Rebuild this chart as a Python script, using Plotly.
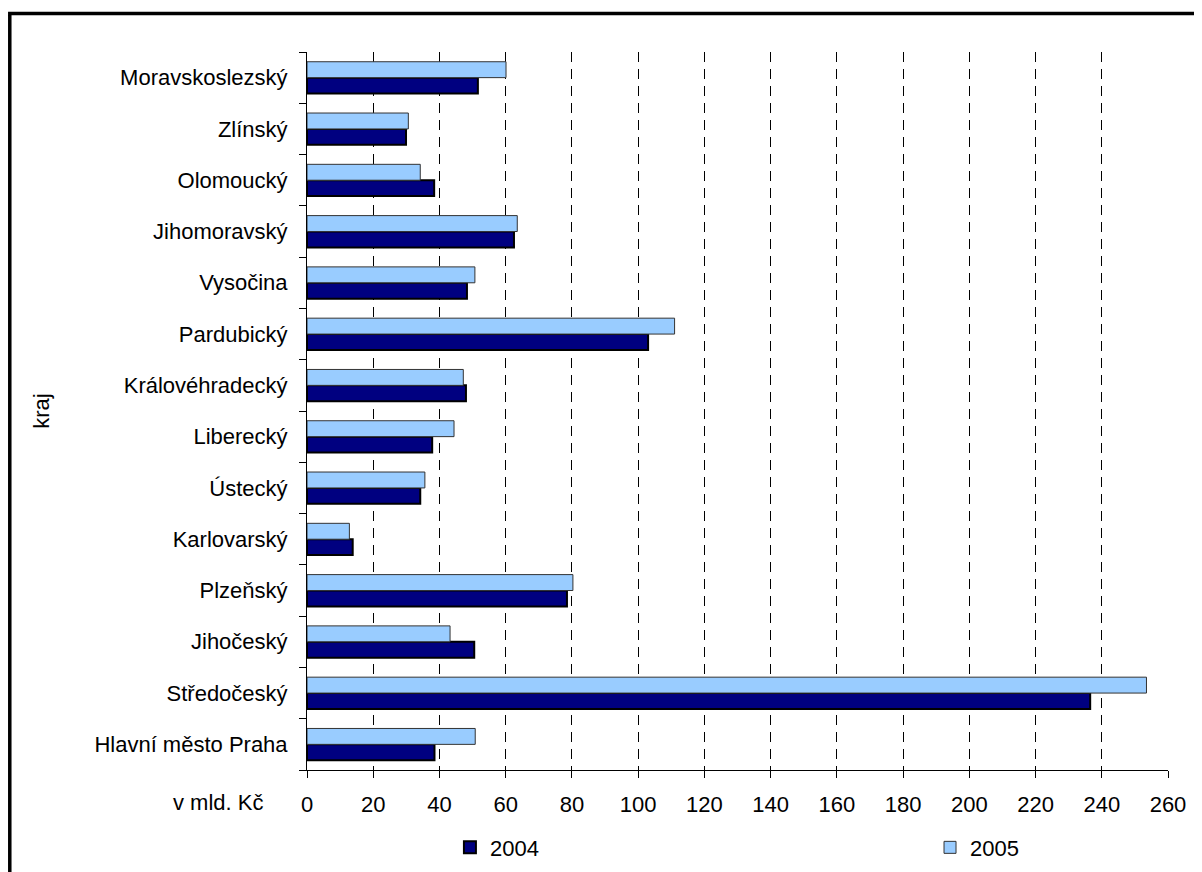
import plotly.graph_objects as go

regions = ["Hlavní město Praha", "Středočeský", "Jihočeský", "Plzeňský", "Karlovarský",
           "Ústecký", "Liberecký", "Královéhradecký", "Pardubický", "Vysočina",
           "Jihomoravský", "Olomoucký", "Zlínský", "Moravskoslezský"]
v2004 = [38.5, 236.5, 50.5, 78.5, 13.8, 34.2, 37.8, 48.0, 103.0, 48.3, 62.5, 38.4, 29.9, 51.6]
v2005 = [50.8, 253.5, 43.2, 80.3, 12.8, 35.6, 44.4, 47.2, 111.0, 50.7, 63.5, 34.2, 30.6, 60.1]
x_ticks = list(range(0, 261, 20))

FONT = "Liberation Sans, Arial, sans-serif"
FS = 22

fig = go.Figure()
fig.add_trace(go.Bar(y=regions, x=v2004, name="2004", orientation="h", legend="legend",
                     marker=dict(color="#000080", line=dict(color="#000000", width=2))))
fig.add_trace(go.Bar(y=regions, x=v2005, name="2005", orientation="h", legend="legend2",
                     marker=dict(color="#99CCFF", line=dict(color="#333333", width=1))))

fig.update_layout(
    width=1202, height=872,
    margin=dict(l=299, r=42, t=44, b=108),
    paper_bgcolor="white", plot_bgcolor="white",
    barmode="group", bargap=0.38, bargroupgap=0.0,
    font=dict(family=FONT, size=FS, color="black"),
    showlegend=True,
    legend=dict(orientation="h", x=0.166, y=-0.108, xanchor="left", yanchor="middle",
                font=dict(size=FS), itemwidth=30, bgcolor="rgba(0,0,0,0)"),
    legend2=dict(orientation="h", x=0.7236, y=-0.108, xanchor="left", yanchor="middle",
                 font=dict(size=FS), itemwidth=30, bgcolor="rgba(0,0,0,0)"),
)
fig.update_xaxes(range=[0, 260], tickvals=x_ticks, ticks="outside", ticklen=7,
                 tickcolor="black", showline=True, linecolor="black", linewidth=1,
                 showgrid=True, gridcolor="black", gridwidth=1, griddash="10px,7px",
                 zeroline=False, tickfont=dict(size=FS), ticklabelstandoff=8)
fig.update_yaxes(categoryorder="array", categoryarray=regions, tickson="boundaries",
                 ticks="outside", ticklen=7, tickcolor="black", showline=True,
                 linecolor="black", linewidth=1, showgrid=False,
                 title=dict(text="kraj", font=dict(size=FS), standoff=38),
                 tickfont=dict(size=FS), ticklabelstandoff=14)

fig.add_annotation(text="v mld. Kč", xref="paper", yref="paper", x=-0.0488, y=-0.0458,
                   xanchor="right", yanchor="middle", showarrow=False, font=dict(size=FS))

fig.add_shape(type="rect", xref="paper", yref="paper", x0=-0.3452, y0=-0.4, x1=1.3, y1=1.0535,
              line=dict(color="black", width=3.5), fillcolor="rgba(0,0,0,0)", layer="below")

fig.write_html("out.html")
